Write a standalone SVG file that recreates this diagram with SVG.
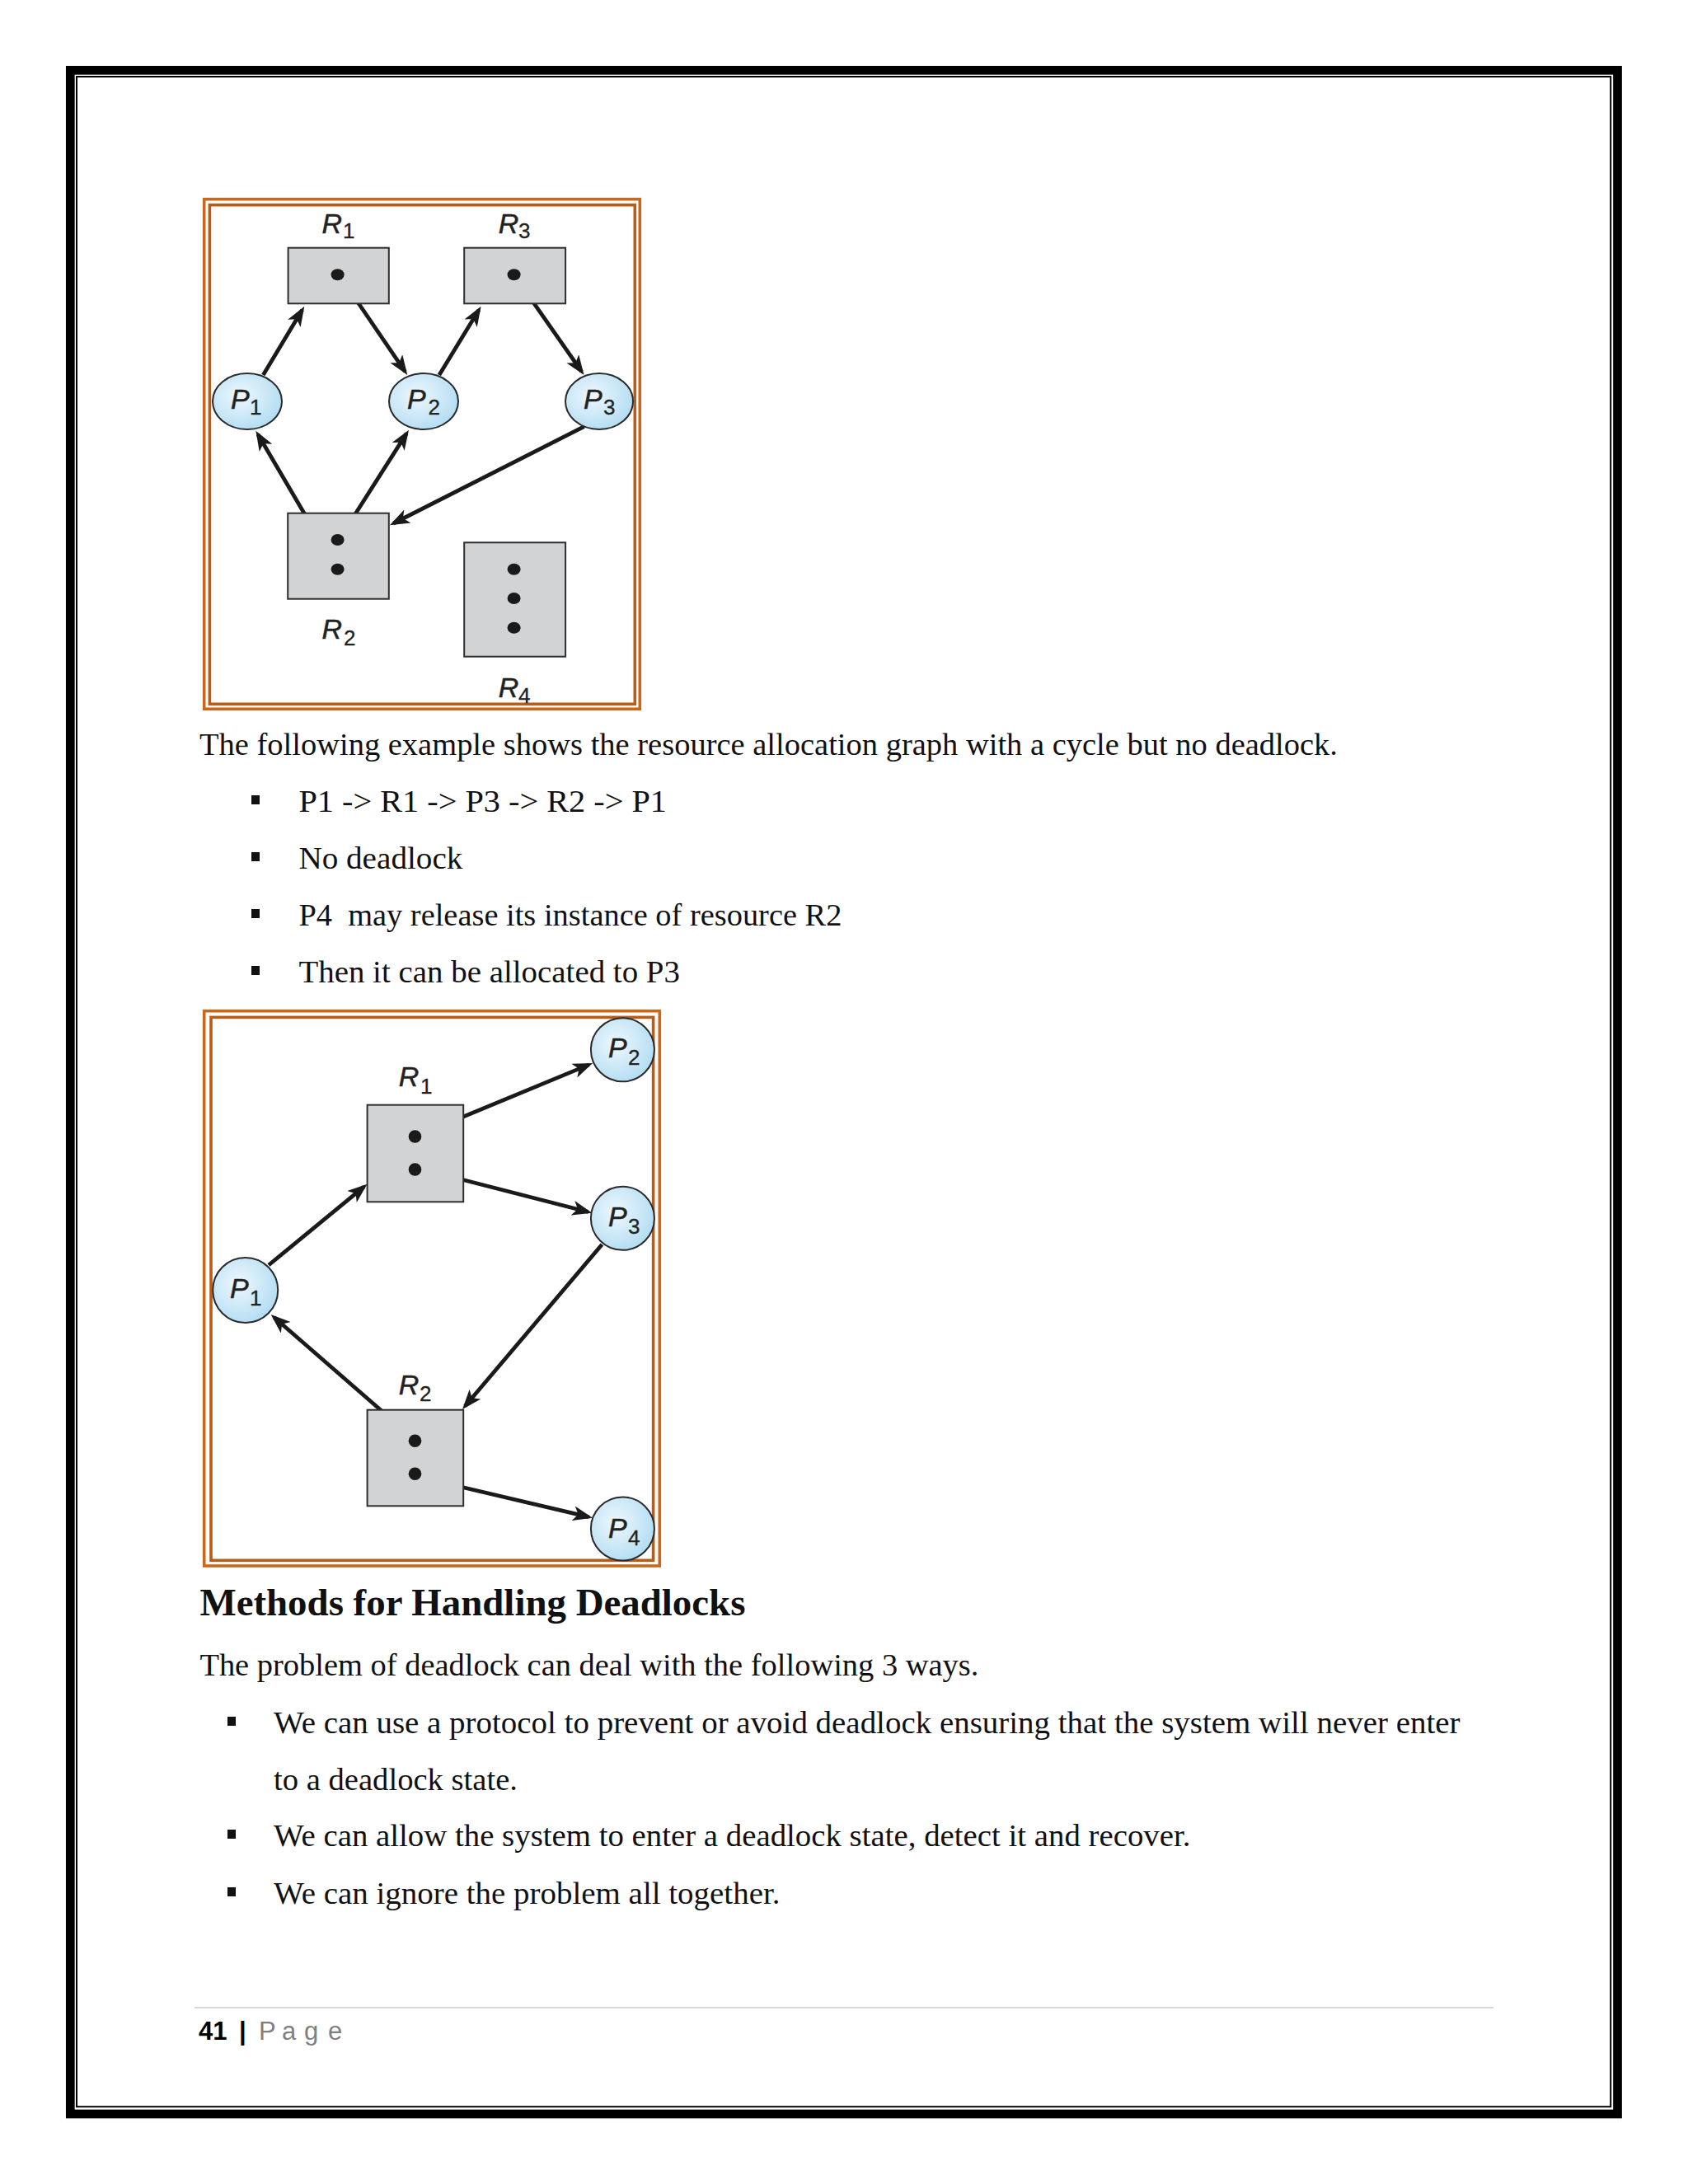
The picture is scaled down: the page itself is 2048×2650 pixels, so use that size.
<svg xmlns="http://www.w3.org/2000/svg" width="2048" height="2650" viewBox="0 0 2048 2650">
<defs>
<style>
.frameO{fill:none;stroke:#c9681d;stroke-width:3.6}
.frameI{fill:none;stroke:#b85c16;stroke-width:3.6}
.box{fill:#d2d3d4;stroke:#2e2e2e;stroke-width:2}
.proc{fill:url(#pg);stroke:#2a2a2a;stroke-width:2}
.dot{fill:#1a1a1a}
.lbl{font-family:"Liberation Sans",Arial,sans-serif;font-style:italic;font-size:34px;fill:#222;stroke:#222;stroke-width:0.5}
.sub{font-family:"Liberation Sans",Arial,sans-serif;font-style:normal;font-size:26px;fill:#222;stroke:#222;stroke-width:0.3}
.edge{stroke:#1a1a1a;stroke-width:4.8;fill:none;marker-end:url(#ah)}
.body{font-family:"Liberation Serif","Times New Roman",serif;font-size:38.5px;fill:#111;white-space:pre}
.head{font-family:"Liberation Serif","Times New Roman",serif;font-size:46px;font-weight:bold;fill:#111}
.bul{fill:#111}
.foot{font-family:"Liberation Sans",Arial,sans-serif;font-size:31px}
</style>
<radialGradient id="pg" cx="0.4" cy="0.4" r="0.65">
<stop offset="0" stop-color="#eef8fe"/>
<stop offset="1" stop-color="#b2dcf2"/>
</radialGradient>
<marker id="ah" markerUnits="userSpaceOnUse" markerWidth="26" markerHeight="19" refX="19" refY="9" orient="auto">
<path d="M0,0 L24,9 L0,18 L6,9 z" fill="#1a1a1a"/>
</marker>
</defs>
<rect x="0" y="0" width="2048" height="2650" fill="#ffffff"/>

<g id="page-border">
<rect x="85.3" y="85.3" width="1877.2" height="2479.7" fill="none" stroke="#000" stroke-width="10.7"/>
<rect x="93" y="93" width="1861.2" height="2463.2" fill="none" stroke="#000" stroke-width="2"/>
</g>

<!-- Diagram 1 -->
<g id="fig1-frame">
<rect class="frameO" x="247.7" y="241.7" width="528.6" height="618.6"/>
<rect class="frameI" x="254.4" y="248.7" width="515.9" height="605.6"/>
</g>
<g id="fig1-connectors">
<line class="edge" x1="319.3" y1="455" x2="366.7" y2="376"/>
<line class="edge" x1="419.3" y1="345" x2="491.5" y2="450.9"/>
<line class="edge" x1="532.9" y1="455" x2="581" y2="376"/>
<line class="edge" x1="632.9" y1="346.7" x2="705.7" y2="450.9"/>
<line class="edge" x1="401.4" y1="678" x2="312.9" y2="527"/>
<line class="edge" x1="417.5" y1="645" x2="493.3" y2="525.9"/>
<line class="edge" x1="708.6" y1="517.7" x2="477.4" y2="635"/>
</g>
<g id="fig1-R1">
<text class="lbl" x="390.5" y="283">R<tspan class="sub" x="416" y="288.5">1</tspan></text>
<rect class="box" x="349.6" y="300.7" width="122.2" height="67.6"/>
<ellipse class="dot" cx="409.6" cy="333.3" rx="8" ry="7"/>
</g>
<g id="fig1-R3">
<text class="lbl" x="604.8" y="283">R<tspan class="sub" x="629" y="288.5">3</tspan></text>
<rect class="box" x="563.2" y="300.7" width="122.9" height="67.6"/>
<ellipse class="dot" cx="623.6" cy="333.3" rx="8" ry="7"/>
</g>
<g id="fig1-P1">
<ellipse class="proc" cx="300" cy="487" rx="42" ry="34"/>
<text class="lbl" x="280" y="496">P<tspan class="sub" x="303" y="503">1</tspan></text>
</g>
<g id="fig1-P2">
<ellipse class="proc" cx="514" cy="487" rx="42" ry="34"/>
<text class="lbl" x="494" y="496">P<tspan class="sub" x="519.5" y="503">2</tspan></text>
</g>
<g id="fig1-P3">
<ellipse class="proc" cx="727" cy="487" rx="41" ry="34"/>
<text class="lbl" x="708" y="496">P<tspan class="sub" x="732" y="503">3</tspan></text>
</g>
<g id="fig1-R2">
<rect class="box" x="349.2" y="622.7" width="122.6" height="104"/>
<ellipse class="dot" cx="409.6" cy="655" rx="8" ry="7"/>
<ellipse class="dot" cx="409.6" cy="690.7" rx="8" ry="7"/>
<text class="lbl" x="390.5" y="774.5">R<tspan class="sub" x="417" y="783">2</tspan></text>
</g>
<g id="fig1-R4">
<rect class="box" x="563.2" y="658.3" width="122.9" height="138.4"/>
<ellipse class="dot" cx="623.6" cy="690.7" rx="8" ry="7"/>
<ellipse class="dot" cx="623.6" cy="726" rx="8" ry="7"/>
<ellipse class="dot" cx="623.6" cy="761.7" rx="8" ry="7"/>
<text class="lbl" x="604.8" y="846">R<tspan class="sub" x="629" y="853">4</tspan></text>
</g>

<!-- Text block 1 -->
<g id="text-1">
<text class="body" x="242" y="916" textLength="1381" lengthAdjust="spacingAndGlyphs">The following example shows the resource allocation graph with a cycle but no deadlock.</text>
<rect class="bul" x="305" y="965" width="10" height="11"/>
<text class="body" x="362.4" y="985" textLength="446.6" lengthAdjust="spacingAndGlyphs">P1 -&gt; R1 -&gt; P3 -&gt; R2 -&gt; P1</text>
<rect class="bul" x="305" y="1034" width="10" height="11"/>
<text class="body" x="362.4" y="1054" textLength="199" lengthAdjust="spacingAndGlyphs">No deadlock</text>
<rect class="bul" x="305" y="1103" width="10" height="11"/>
<text class="body" x="362.4" y="1123" textLength="659" lengthAdjust="spacingAndGlyphs">P4  may release its instance of resource R2</text>
<rect class="bul" x="305" y="1172" width="10" height="11"/>
<text class="body" x="362.4" y="1192" textLength="462.6" lengthAdjust="spacingAndGlyphs">Then it can be allocated to P3</text>
</g>

<!-- Diagram 2 -->
<g id="fig2-frame">
<rect class="frameO" x="247.7" y="1226.7" width="552.6" height="673.3"/>
<rect class="frameI" x="256" y="1234.4" width="536.6" height="658.9"/>
</g>
<g id="fig2-connectors">
<line class="edge" x1="521.6" y1="1371.7" x2="714.5" y2="1291.9"/>
<line class="edge" x1="519.7" y1="1420.7" x2="713.5" y2="1470.5"/>
<line class="edge" x1="326" y1="1535" x2="441.7" y2="1439.9"/>
<line class="edge" x1="730.4" y1="1510" x2="564.2" y2="1706.2"/>
<line class="edge" x1="489.6" y1="1735" x2="332.4" y2="1598.3"/>
<line class="edge" x1="520.4" y1="1795" x2="714.2" y2="1840.6"/>
</g>
<g id="fig2-R1">
<text class="lbl" x="483.8" y="1318">R<tspan class="sub" x="510" y="1326.5">1</tspan></text>
<rect class="box" x="445.6" y="1340.7" width="116.6" height="117.6"/>
<circle class="dot" cx="503.5" cy="1379" r="7.8"/>
<circle class="dot" cx="503.5" cy="1419" r="7.8"/>
</g>
<g id="fig2-R2">
<text class="lbl" x="483.8" y="1691.5">R<tspan class="sub" x="509" y="1700">2</tspan></text>
<rect class="box" x="445.6" y="1710.7" width="116.6" height="116.6"/>
<circle class="dot" cx="503.5" cy="1748.3" r="7.8"/>
<circle class="dot" cx="503.5" cy="1788.3" r="7.8"/>
</g>
<g id="fig2-P1">
<circle class="proc" cx="297.7" cy="1565.5" r="39.5"/>
<text class="lbl" x="279" y="1574.5">P<tspan class="sub" x="303" y="1584">1</tspan></text>
</g>
<g id="fig2-P2">
<circle class="proc" cx="755.4" cy="1273.8" r="38.5"/>
<text class="lbl" x="738" y="1283">P<tspan class="sub" x="762" y="1291.5">2</tspan></text>
</g>
<g id="fig2-P3">
<circle class="proc" cx="755.4" cy="1478.3" r="38.5"/>
<text class="lbl" x="738" y="1488">P<tspan class="sub" x="762" y="1496.5">3</tspan></text>
</g>
<g id="fig2-P4">
<circle class="proc" cx="755.4" cy="1855" r="38.5"/>
<text class="lbl" x="738" y="1866">P<tspan class="sub" x="762" y="1874.5">4</tspan></text>
</g>

<!-- Text block 2 -->
<g id="text-2">
<text class="head" x="242.4" y="1960" textLength="662" lengthAdjust="spacingAndGlyphs">Methods for Handling Deadlocks</text>
<text class="body" x="242.4" y="2033" textLength="945" lengthAdjust="spacingAndGlyphs">The problem of deadlock can deal with the following 3 ways.</text>
<rect class="bul" x="276" y="2083" width="10" height="11"/>
<text class="body" x="332" y="2103" textLength="1439.5" lengthAdjust="spacingAndGlyphs">We can use a protocol to prevent or avoid deadlock ensuring that the system will never enter</text>
<text class="body" x="332" y="2172" textLength="296" lengthAdjust="spacingAndGlyphs">to a deadlock state.</text>
<rect class="bul" x="276" y="2220" width="10" height="11"/>
<text class="body" x="332" y="2240" textLength="1112.5" lengthAdjust="spacingAndGlyphs">We can allow the system to enter a deadlock state, detect it and recover.</text>
<rect class="bul" x="276" y="2290" width="10" height="11"/>
<text class="body" x="332" y="2310" textLength="614.5" lengthAdjust="spacingAndGlyphs">We can ignore the problem all together.</text>
</g>

<!-- Footer -->
<g id="footer">
<line x1="236" y1="2436" x2="1812" y2="2436" stroke="#d9d9d9" stroke-width="2"/>
<text class="foot" x="241" y="2475" font-weight="bold" fill="#000">41</text>
<text class="foot" x="290" y="2475" font-weight="bold" fill="#000">|</text>
<text class="foot" x="314 342 369 398" y="2475" fill="#7f7f7f">Page</text>
</g>
</svg>
